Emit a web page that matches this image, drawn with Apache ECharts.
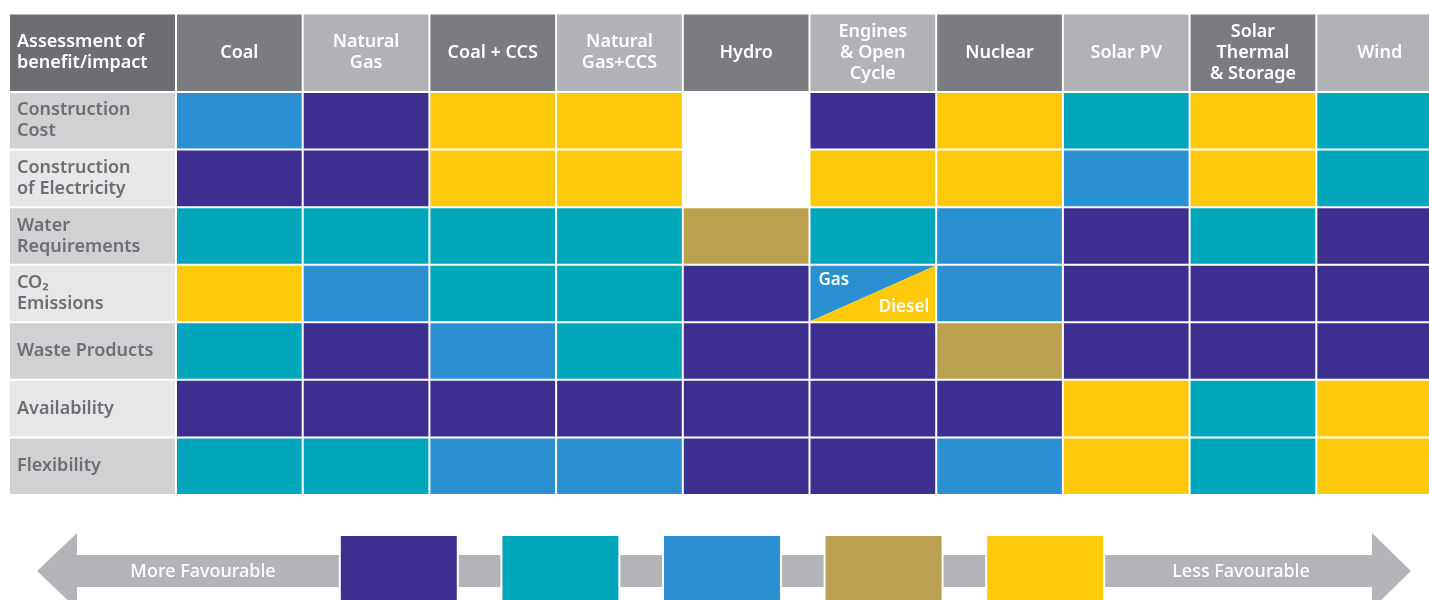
<!DOCTYPE html>
<html>
<head>
<meta charset="utf-8">
<script src="https://cdn.jsdelivr.net/npm/echarts@6/dist/echarts.min.js"></script>
<style>
  html, body { margin: 0; padding: 0; background: #fff; }
  #chart { width: 1429px; height: 600px; }
</style>
</head>
<body>
<div id="chart"></div>
<script>
// technologies (columns)
const technologies = ['Coal', 'Natural\nGas', 'Coal + CCS', 'Natural\nGas+CCS', 'Hydro',
  'Engines\n& Open\nCycle', 'Nuclear', 'Solar PV', 'Solar\nThermal\n& Storage', 'Wind']
// assessment criteria (rows)
const criteria = ['Construction\nCost', 'Construction\nof Electricity', 'Water\nRequirements',
  'CO₂\nEmissions', 'Waste Products', 'Availability', 'Flexibility']
const cornerLabel = 'Assessment of\nbenefit/impact'

// 1 = more favourable ... 5 = less favourable, null = not rated
const constructionCost = [3, 1, 5, 5, null, 1, 5, 2, 5, 2]
const constructionOfElectricity = [1, 1, 5, 5, null, 5, 5, 3, 5, 2]
const waterRequirements = [2, 2, 2, 2, 4, 2, 3, 1, 2, 1]
const co2Emissions = [5, 3, 2, 2, 1, [3, 5], 3, 1, 1, 1]
const wasteProducts = [2, 1, 3, 2, 1, 1, 4, 1, 1, 1]
const availability = [1, 1, 1, 1, 1, 1, 1, 5, 2, 5]
const flexibility = [2, 2, 3, 3, 1, 1, 3, 5, 2, 5]
const ratings = [constructionCost, constructionOfElectricity, waterRequirements,
  co2Emissions, wasteProducts, availability, flexibility]
// labels of the split cell halves
const splitLabels = ['Gas', 'Diesel']

// legend scale
const levels = ['1', '2', '3', '4', '5']
const levelColors = ['#3c2f8f', '#00a6b9', '#2a90d2', '#bba14f', '#ffc90b']
const moreText = 'More Favourable'
const lessText = 'Less Favourable'

// shared text style
const textFont = {fontFamily: 'Noto Sans', fontSize: 18, fontWeight: 600}
const chart = echarts.init(document.getElementById('chart'))

// flatten cells
const cells = []
ratings.forEach((row, r) => {
  row.forEach((v, c) => {
    cells.push({c, r, v})
  })
})

const cellRect = (api, x, y) => {
  const p = api.coord([x, y])
  const s = api.size([1, 1])
  return {x: p[0] - s[0] / 2 + 1, y: p[1] - s[1] / 2 + 1, w: s[0] - 2, h: s[1] - 2}
}

const bodyItem = (params, api) => {
  const cell = cells[params.dataIndex]
  const b = cellRect(api, cell.c, cell.r)
  if (cell.v === null) return null
  if (Array.isArray(cell.v)) {
    // split cell: upper-left / lower-right triangles
    return {
      type: 'group',
      children: [
        {type: 'polygon', shape: {points: [[b.x, b.y], [b.x + b.w, b.y], [b.x, b.y + b.h]]},
          style: {fill: levelColors[cell.v[0] - 1]}},
        {type: 'polygon', shape: {points: [[b.x + b.w, b.y], [b.x + b.w, b.y + b.h], [b.x, b.y + b.h]]},
          style: {fill: levelColors[cell.v[1] - 1]}},
        {type: 'text', style: {...textFont, fontSize: 17, x: b.x + 8, y: b.y + 14, text: splitLabels[0],
            fill: '#fff', align: 'left', verticalAlign: 'middle'}},
        {type: 'text', style: {...textFont, fontSize: 17, x: b.x + b.w - 6, y: b.y + b.h - 14,
            text: splitLabels[1], fill: '#fff', align: 'right', verticalAlign: 'middle'}}
      ]
    }
  }
  return {type: 'rect', shape: {x: b.x, y: b.y, width: b.w, height: b.h},
    style: {fill: levelColors[cell.v - 1]}}
}

const headerItem = (params, api) => {
  const b = cellRect(api, params.dataIndex, 0)
  return {
    type: 'rect', shape: {x: b.x, y: b.y, width: b.w, height: b.h},
    style: {fill: params.dataIndex % 2 === 0 ? '#7b7c80' : '#b1b2b5'},
    textContent: {style: {...textFont, text: technologies[params.dataIndex], fill: '#fff',
        lineHeight: 21, align: 'center'}},
    textConfig: {position: 'inside'}
  }
}

const labelItem = (params, api) => {
  const b = cellRect(api, 0, params.dataIndex)
  return {
    type: 'group',
    children: [
      {type: 'rect', shape: {x: b.x, y: b.y, width: b.w, height: b.h},
        style: {fill: params.dataIndex % 2 === 0 ? '#d0d1d3' : '#e6e7e8'}},
      {type: 'text', style: {...textFont, x: b.x + 7, y: b.y + b.h / 2, text: criteria[params.dataIndex],
          fill: '#6d6e71', lineHeight: 21, align: 'left', verticalAlign: 'middle'}}
    ]
  }
}

const cornerItem = (params, api) => {
  const b = cellRect(api, 0, 0)
  return {
    type: 'group',
    children: [
      {type: 'rect', shape: {x: b.x, y: b.y, width: b.w, height: b.h}, style: {fill: '#6d6e71'}},
      {type: 'text', style: {...textFont, x: b.x + 7, y: b.y + b.h / 2, text: cornerLabel, fill: '#fff',
          lineHeight: 21, align: 'left', verticalAlign: 'middle'}}
    ]
  }
}

const legendItem = (params, api) => {
  const p = api.coord([params.dataIndex, 0])
  const s = api.size([1, 1])
  const w = s[0] * 0.73
  return {type: 'rect', shape: {x: p[0] - w / 2, y: p[1] - s[1] / 2, width: w, height: s[1]},
    style: {fill: levelColors[params.dataIndex], stroke: '#fff', lineWidth: 2}}
}

const hidden = {show: false}
const catAxis = (gridIndex, data, inverse) => ({
  type: 'category', gridIndex, data, inverse: !!inverse,
  axisLine: hidden, axisTick: hidden, axisLabel: hidden, splitLine: hidden
})
const gridBox = (left, top, width, height) => ({left, top, width, height, outerBoundsMode: 'none'})

const option = {
  animation: false,
  grid: [
    gridBox(176, 92, 1267, 403),     // body
    gridBox(176, 13.5, 1267, 78.5),  // column headers
    gridBox(9, 92, 167, 403),        // row labels
    gridBox(9, 13.5, 167, 78.5),     // corner
    gridBox(318, 535, 808, 66)       // legend scale
  ],
  xAxis: [
    catAxis(0, technologies),
    catAxis(1, technologies),
    catAxis(2, ['label']),
    catAxis(3, ['label']),
    catAxis(4, levels)
  ],
  yAxis: [
    catAxis(0, criteria, true),
    catAxis(1, ['head']),
    catAxis(2, criteria, true),
    catAxis(3, ['head']),
    catAxis(4, ['scale'])
  ],
  graphic: [
    {
      type: 'polygon', z: 0,
      shape: {points: [[37, 571], [77, 533], [77, 555], [1372, 555], [1372, 533], [1411, 571],
          [1372, 609], [1372, 587], [77, 587], [77, 609]]},
      style: {fill: '#b3b4b7'}
    },
    {type: 'text', z: 1, style: {...textFont, fontWeight: 500, x: 203, y: 572, text: moreText,
        fill: '#fff', align: 'center', verticalAlign: 'middle'}},
    {type: 'text', z: 1, style: {...textFont, fontWeight: 500, x: 1241, y: 572, text: lessText,
        fill: '#fff', align: 'center', verticalAlign: 'middle'}}
  ],
  series: [
    {type: 'custom', xAxisIndex: 0, yAxisIndex: 0, renderItem: bodyItem,
      data: cells.map(d => [d.c, d.r])},
    {type: 'custom', xAxisIndex: 1, yAxisIndex: 1, renderItem: headerItem,
      data: technologies.map((t, i) => [i, 0])},
    {type: 'custom', xAxisIndex: 2, yAxisIndex: 2, renderItem: labelItem,
      data: criteria.map((t, i) => [0, i])},
    {type: 'custom', xAxisIndex: 3, yAxisIndex: 3, renderItem: cornerItem, data: [[0, 0]]},
    {type: 'custom', xAxisIndex: 4, yAxisIndex: 4, renderItem: legendItem, z: 5,
      data: levels.map((l, i) => [i, 0])}
  ]
}
chart.setOption(option)
</script>
</body>
</html>
